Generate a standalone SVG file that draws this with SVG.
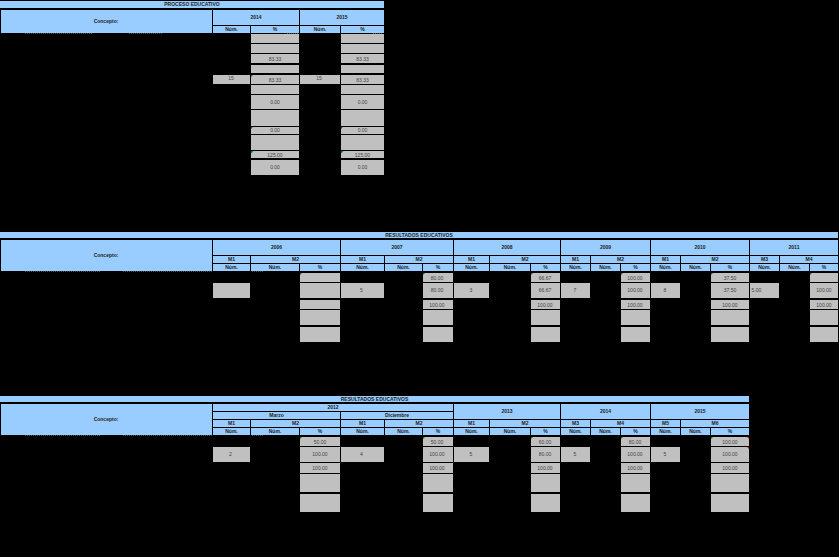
<svg xmlns="http://www.w3.org/2000/svg" width="839" height="557" viewBox="0 0 839 557">
<style>
.h{fill:#99ccff}
.g{fill:#c0c0c0}
.ht{font-family:"Liberation Sans",Arial,sans-serif;font-size:5px;font-weight:bold;fill:#222;text-anchor:middle}
.vt{font-family:"Liberation Sans",Arial,sans-serif;font-size:5px;fill:#444;text-anchor:middle}
.vl{font-family:"Liberation Sans",Arial,sans-serif;font-size:5px;fill:#444;text-anchor:start}
.dot{stroke:#8a8a8a;stroke-width:0.6;stroke-dasharray:1 1;fill:none}
.gc{fill:#008000}
.rc{fill:#ff0000}
</style>
<rect width="839" height="557" fill="#000"/>

<!-- TABLE 1: PROCESO EDUCATIVO -->
<g id="proceso">
<g id="proceso-header">
<rect class="h" x="0" y="1" width="384" height="7"/>
<text class="ht" x="192" y="6.3">PROCESO EDUCATIVO</text>
<rect class="h" x="1" y="10" width="211" height="23"/>
<text class="ht" x="106" y="23">Concepto:</text>
<rect class="h" x="213" y="10" width="86" height="15"/>
<text class="ht" x="256" y="19.2">2014</text>
<rect class="h" x="300" y="10" width="84" height="15"/>
<text class="ht" x="342" y="19.2">2015</text>
<rect class="h" x="213" y="26" width="37" height="7"/>
<text class="ht" x="231.5" y="31.3">Núm.</text>
<rect class="h" x="251" y="26" width="48" height="7"/>
<text class="ht" x="275" y="31.3">%</text>
<rect class="h" x="300" y="26" width="40" height="7"/>
<text class="ht" x="320" y="31.3">Núm.</text>
<rect class="h" x="341" y="26" width="43" height="7"/>
<text class="ht" x="362.5" y="31.3">%</text>
<path class="dot" d="M25 33.5H92M129 33.5H163M287 33.5H298M373 33.5H383"/>
</g>
<g id="proceso-2014">
<rect class="g" x="251" y="34" width="48" height="9"/>
<rect class="g" x="251" y="44" width="48" height="9"/>
<rect class="g" x="251" y="54" width="48" height="9"/>
<text class="vt" x="275" y="60.5">83.33</text>
<rect class="g" x="251" y="65" width="48" height="8"/>
<rect class="g" x="213" y="75" width="37" height="9"/>
<text class="vt" x="231" y="80">15</text>
<rect class="g" x="251" y="75" width="48" height="9"/>
<text class="vt" x="275" y="81.5">83.33</text>
<rect class="g" x="251" y="85" width="48" height="9"/>
<rect class="g" x="251" y="95" width="48" height="14"/>
<text class="vt" x="275" y="103.8">0.00</text>
<rect class="g" x="251" y="110" width="48" height="16"/>
<rect class="g" x="251" y="127" width="48" height="7"/>
<text class="vt" x="275" y="132.3">0.00</text>
<rect class="g" x="251" y="135" width="48" height="15"/>
<rect class="g" x="251" y="151" width="48" height="7"/>
<text class="vt" x="275" y="156.5">125.00</text>
<rect class="g" x="251" y="160" width="48" height="15"/>
<text class="vt" x="275" y="169.3">0.00</text>
<path class="gc" d="M251 75h2l-2 2zM251 127h2l-2 2zM251 151h2.5l-2.5 2.5z"/>
</g>
<g id="proceso-2015">
<rect class="g" x="341" y="34" width="43" height="9"/>
<rect class="g" x="341" y="44" width="43" height="9"/>
<rect class="g" x="341" y="54" width="43" height="9"/>
<text class="vt" x="362.5" y="60.5">83.33</text>
<rect class="g" x="341" y="65" width="43" height="8"/>
<rect class="g" x="300" y="75" width="40" height="9"/>
<text class="vt" x="319" y="80">15</text>
<rect class="g" x="341" y="75" width="43" height="9"/>
<text class="vt" x="362.5" y="81.5">83.33</text>
<rect class="g" x="341" y="85" width="43" height="9"/>
<rect class="g" x="341" y="95" width="43" height="14"/>
<text class="vt" x="362.5" y="103.8">0.00</text>
<rect class="g" x="341" y="110" width="43" height="16"/>
<rect class="g" x="341" y="127" width="43" height="7"/>
<text class="vt" x="362.5" y="132.3">0.00</text>
<rect class="g" x="341" y="135" width="43" height="15"/>
<rect class="g" x="341" y="151" width="43" height="7"/>
<text class="vt" x="362.5" y="156.5">125.00</text>
<rect class="g" x="341" y="160" width="43" height="15"/>
<text class="vt" x="362.5" y="169.3">0.00</text>
<path class="gc" d="M341 127h2l-2 2zM341 151h2.5l-2.5 2.5z"/>
</g>
</g>

<!-- TABLE 2: RESULTADOS EDUCATIVOS 2006-2011 -->
<g id="resultados-1">
<g id="res1-header">
<rect class="h" x="0" y="232" width="838" height="6"/>
<text class="ht" x="419" y="236.8">RESULTADOS EDUCATIVOS</text>
<rect class="h" x="1" y="240" width="211" height="31"/>
<text class="ht" x="106" y="257">Concepto:</text>
<rect class="h" x="213" y="240" width="127" height="15"/><text class="ht" x="276.5" y="249.2">2006</text>
<rect class="h" x="341" y="240" width="112" height="15"/><text class="ht" x="397" y="249.2">2007</text>
<rect class="h" x="454" y="240" width="106" height="15"/><text class="ht" x="507" y="249.2">2008</text>
<rect class="h" x="561" y="240" width="89" height="15"/><text class="ht" x="605.5" y="249.2">2009</text>
<rect class="h" x="651" y="240" width="98" height="15"/><text class="ht" x="700" y="249.2">2010</text>
<rect class="h" x="750" y="240" width="88" height="15"/><text class="ht" x="794" y="249.2">2011</text>
<rect class="h" x="213" y="256" width="37" height="7"/><text class="ht" x="231.5" y="261.3">M1</text>
<rect class="h" x="251" y="256" width="89" height="7"/><text class="ht" x="295.5" y="261.3">M2</text>
<rect class="h" x="341" y="256" width="43" height="7"/><text class="ht" x="362.5" y="261.3">M1</text>
<rect class="h" x="385" y="256" width="68" height="7"/><text class="ht" x="419" y="261.3">M2</text>
<rect class="h" x="454" y="256" width="35" height="7"/><text class="ht" x="471.5" y="261.3">M1</text>
<rect class="h" x="490" y="256" width="70" height="7"/><text class="ht" x="525" y="261.3">M2</text>
<rect class="h" x="561" y="256" width="29" height="7"/><text class="ht" x="575.5" y="261.3">M1</text>
<rect class="h" x="591" y="256" width="59" height="7"/><text class="ht" x="620.5" y="261.3">M2</text>
<rect class="h" x="651" y="256" width="29" height="7"/><text class="ht" x="665.5" y="261.3">M1</text>
<rect class="h" x="681" y="256" width="68" height="7"/><text class="ht" x="715" y="261.3">M2</text>
<rect class="h" x="750" y="256" width="29" height="7"/><text class="ht" x="764.5" y="261.3">M3</text>
<rect class="h" x="780" y="256" width="58" height="7"/><text class="ht" x="809" y="261.3">M4</text>
<rect class="h" x="213" y="264" width="37" height="7"/><text class="ht" x="231.5" y="269.3">Núm.</text>
<rect class="h" x="251" y="264" width="48" height="7"/><text class="ht" x="275" y="269.3">Núm.</text>
<rect class="h" x="300" y="264" width="40" height="7"/><text class="ht" x="320" y="269.3">%</text>
<rect class="h" x="341" y="264" width="43" height="7"/><text class="ht" x="362.5" y="269.3">Núm.</text>
<rect class="h" x="385" y="264" width="37" height="7"/><text class="ht" x="403.5" y="269.3">Núm.</text>
<rect class="h" x="423" y="264" width="30" height="7"/><text class="ht" x="438" y="269.3">%</text>
<rect class="h" x="454" y="264" width="35" height="7"/><text class="ht" x="471.5" y="269.3">Núm.</text>
<rect class="h" x="490" y="264" width="40" height="7"/><text class="ht" x="510" y="269.3">Núm.</text>
<rect class="h" x="531" y="264" width="29" height="7"/><text class="ht" x="545.5" y="269.3">%</text>
<rect class="h" x="561" y="264" width="29" height="7"/><text class="ht" x="575.5" y="269.3">Núm.</text>
<rect class="h" x="591" y="264" width="29" height="7"/><text class="ht" x="605.5" y="269.3">Núm.</text>
<rect class="h" x="621" y="264" width="29" height="7"/><text class="ht" x="635.5" y="269.3">%</text>
<rect class="h" x="651" y="264" width="29" height="7"/><text class="ht" x="665.5" y="269.3">Núm.</text>
<rect class="h" x="681" y="264" width="29" height="7"/><text class="ht" x="695.5" y="269.3">Núm.</text>
<rect class="h" x="711" y="264" width="38" height="7"/><text class="ht" x="730" y="269.3">%</text>
<rect class="h" x="750" y="264" width="29" height="7"/><text class="ht" x="764.5" y="269.3">Núm.</text>
<rect class="h" x="780" y="264" width="29" height="7"/><text class="ht" x="794.5" y="269.3">Núm.</text>
<rect class="h" x="810" y="264" width="28" height="7"/><text class="ht" x="824" y="269.3">%</text>
<path class="dot" d="M25 271.5H100M123 271.5H213M252 271.5H263"/>
</g>
<g id="res1-2006">
<rect class="g" x="300" y="273" width="40" height="9"/>
<rect class="g" x="213" y="283" width="37" height="15"/>
<rect class="g" x="300" y="283" width="40" height="15"/>
<rect class="g" x="300" y="300" width="40" height="9"/>
<rect class="g" x="300" y="310" width="40" height="15"/>
<rect class="g" x="300" y="327" width="40" height="15"/>
<path class="gc" d="M300 273h2l-2 2z"/>
</g>
<g id="res1-2007">
<rect class="g" x="423" y="273" width="30" height="9"/><text class="vt" x="437" y="279.5">80.00</text>
<rect class="g" x="341" y="283" width="43" height="15"/><text class="vt" x="361.5" y="292.3">5</text>
<rect class="g" x="423" y="283" width="30" height="15"/><text class="vt" x="437" y="292.3">80.00</text>
<rect class="g" x="423" y="300" width="30" height="9"/><text class="vt" x="437" y="306.5">100.00</text>
<rect class="g" x="423" y="310" width="30" height="15"/>
<rect class="g" x="423" y="327" width="30" height="15"/>
<path class="gc" d="M423 273h2l-2 2z"/>
</g>
<g id="res1-2008">
<rect class="g" x="531" y="273" width="29" height="9"/><text class="vt" x="545" y="279.5">66.67</text>
<rect class="g" x="454" y="283" width="35" height="15"/><text class="vt" x="471" y="292.3">3</text>
<rect class="g" x="531" y="283" width="29" height="15"/><text class="vt" x="545" y="292.3">66.67</text>
<rect class="g" x="531" y="300" width="29" height="9"/><text class="vt" x="545" y="306.5">100.00</text>
<rect class="g" x="531" y="310" width="29" height="15"/>
<rect class="g" x="531" y="327" width="29" height="15"/>
<path class="gc" d="M531 273h2l-2 2z"/>
</g>
<g id="res1-2009">
<rect class="g" x="621" y="273" width="29" height="9"/><text class="vt" x="635" y="279.5">100.00</text>
<rect class="g" x="561" y="283" width="29" height="15"/><text class="vt" x="575" y="292.3">7</text>
<rect class="g" x="621" y="283" width="29" height="15"/><text class="vt" x="635" y="292.3">100.00</text>
<rect class="g" x="621" y="300" width="29" height="9"/><text class="vt" x="635" y="306.5">100.00</text>
<rect class="g" x="621" y="310" width="29" height="15"/>
<rect class="g" x="621" y="327" width="29" height="15"/>
<path class="gc" d="M621 273h2l-2 2z"/>
</g>
<g id="res1-2010">
<rect class="g" x="711" y="273" width="38" height="9"/><text class="vt" x="730" y="279.5">37.50</text>
<rect class="g" x="651" y="283" width="29" height="15"/><text class="vt" x="665" y="292.3">8</text>
<rect class="g" x="711" y="283" width="38" height="15"/><text class="vt" x="730" y="292.3">37.50</text>
<rect class="g" x="711" y="300" width="38" height="9"/><text class="vt" x="730" y="306.5">100.00</text>
<rect class="g" x="711" y="310" width="38" height="15"/>
<rect class="g" x="711" y="327" width="38" height="15"/>
<path class="gc" d="M711 273h2l-2 2z"/>
</g>
<g id="res1-2011">
<rect class="g" x="810" y="273" width="28" height="9"/>
<rect class="g" x="750" y="283" width="29" height="15"/><text class="vl" x="751.5" y="292.3">5.00</text>
<rect class="g" x="810" y="283" width="28" height="15"/><text class="vt" x="824" y="292.3">100.00</text>
<rect class="g" x="810" y="300" width="28" height="9"/><text class="vt" x="824" y="306.5">100.00</text>
<rect class="g" x="810" y="310" width="28" height="15"/>
<rect class="g" x="810" y="327" width="28" height="15"/>
<path class="gc" d="M810 273h2l-2 2z"/>
</g>
</g>

<!-- TABLE 3: RESULTADOS EDUCATIVOS 2012-2015 -->
<g id="resultados-2">
<g id="res2-header">
<rect class="h" x="0" y="396" width="749" height="6"/>
<text class="ht" x="374.5" y="400.8">RESULTADOS EDUCATIVOS</text>
<rect class="h" x="1" y="404" width="211" height="31"/>
<text class="ht" x="106" y="421">Concepto:</text>
<rect class="h" x="213" y="404" width="240" height="7"/><text class="ht" x="333" y="409.3">2012</text>
<rect class="h" x="213" y="412" width="127" height="7"/><text class="ht" x="276.5" y="417.3">Marzo</text>
<rect class="h" x="341" y="412" width="112" height="7"/><text class="ht" x="397" y="417.3">Diciembre</text>
<rect class="h" x="454" y="404" width="106" height="15"/><text class="ht" x="507" y="413.2">2013</text>
<rect class="h" x="561" y="404" width="89" height="15"/><text class="ht" x="605.5" y="413.2">2014</text>
<rect class="h" x="651" y="404" width="98" height="15"/><text class="ht" x="700" y="413.2">2015</text>
<rect class="h" x="213" y="420" width="37" height="7"/><text class="ht" x="231.5" y="425.3">M1</text>
<rect class="h" x="251" y="420" width="89" height="7"/><text class="ht" x="295.5" y="425.3">M2</text>
<rect class="h" x="341" y="420" width="43" height="7"/><text class="ht" x="362.5" y="425.3">M1</text>
<rect class="h" x="385" y="420" width="68" height="7"/><text class="ht" x="419" y="425.3">M2</text>
<rect class="h" x="454" y="420" width="35" height="7"/><text class="ht" x="471.5" y="425.3">M1</text>
<rect class="h" x="490" y="420" width="70" height="7"/><text class="ht" x="525" y="425.3">M2</text>
<rect class="h" x="561" y="420" width="29" height="7"/><text class="ht" x="575.5" y="425.3">M3</text>
<rect class="h" x="591" y="420" width="59" height="7"/><text class="ht" x="620.5" y="425.3">M4</text>
<rect class="h" x="651" y="420" width="29" height="7"/><text class="ht" x="665.5" y="425.3">M5</text>
<rect class="h" x="681" y="420" width="68" height="7"/><text class="ht" x="715" y="425.3">M6</text>
<rect class="h" x="213" y="428" width="37" height="7"/><text class="ht" x="231.5" y="433.3">Núm.</text>
<rect class="h" x="251" y="428" width="48" height="7"/><text class="ht" x="275" y="433.3">Núm.</text>
<rect class="h" x="300" y="428" width="40" height="7"/><text class="ht" x="320" y="433.3">%</text>
<rect class="h" x="341" y="428" width="43" height="7"/><text class="ht" x="362.5" y="433.3">Núm.</text>
<rect class="h" x="385" y="428" width="37" height="7"/><text class="ht" x="403.5" y="433.3">Núm.</text>
<rect class="h" x="423" y="428" width="30" height="7"/><text class="ht" x="438" y="433.3">%</text>
<rect class="h" x="454" y="428" width="35" height="7"/><text class="ht" x="471.5" y="433.3">Núm.</text>
<rect class="h" x="490" y="428" width="40" height="7"/><text class="ht" x="510" y="433.3">Núm.</text>
<rect class="h" x="531" y="428" width="29" height="7"/><text class="ht" x="545.5" y="433.3">%</text>
<rect class="h" x="561" y="428" width="29" height="7"/><text class="ht" x="575.5" y="433.3">Núm.</text>
<rect class="h" x="591" y="428" width="29" height="7"/><text class="ht" x="605.5" y="433.3">Núm.</text>
<rect class="h" x="621" y="428" width="29" height="7"/><text class="ht" x="635.5" y="433.3">%</text>
<rect class="h" x="651" y="428" width="29" height="7"/><text class="ht" x="665.5" y="433.3">Núm.</text>
<rect class="h" x="681" y="428" width="29" height="7"/><text class="ht" x="695.5" y="433.3">Núm.</text>
<rect class="h" x="711" y="428" width="38" height="7"/><text class="ht" x="730" y="433.3">%</text>
<path class="dot" d="M25 435.5H100M123 435.5H213M252 435.5H263"/>
</g>
<g id="res2-marzo">
<rect class="g" x="300" y="437" width="40" height="9"/><text class="vt" x="320" y="443.5">50.00</text>
<rect class="g" x="213" y="447" width="37" height="15"/><text class="vt" x="230.5" y="456.3">2</text>
<rect class="g" x="300" y="447" width="40" height="15"/><text class="vt" x="320" y="456.3">100.00</text>
<rect class="g" x="300" y="463" width="40" height="10"/><text class="vt" x="320" y="469.8">100.00</text>
<rect class="g" x="300" y="474" width="40" height="18"/>
<rect class="g" x="300" y="494" width="40" height="18"/>
<path class="gc" d="M300 437h2l-2 2z"/>
</g>
<g id="res2-diciembre">
<rect class="g" x="423" y="437" width="30" height="9"/><text class="vt" x="437" y="443.5">50.00</text>
<rect class="g" x="341" y="447" width="43" height="15"/><text class="vt" x="361.5" y="456.3">4</text>
<rect class="g" x="423" y="447" width="30" height="15"/><text class="vt" x="437" y="456.3">100.00</text>
<rect class="g" x="423" y="463" width="30" height="10"/><text class="vt" x="437" y="469.8">100.00</text>
<rect class="g" x="423" y="474" width="30" height="18"/>
<rect class="g" x="423" y="494" width="30" height="18"/>
<path class="gc" d="M423 437h2l-2 2z"/>
</g>
<g id="res2-2013">
<rect class="g" x="531" y="437" width="29" height="9"/><text class="vt" x="545" y="443.5">60.00</text>
<rect class="g" x="454" y="447" width="35" height="15"/><text class="vt" x="471" y="456.3">5</text>
<rect class="g" x="531" y="447" width="29" height="15"/><text class="vt" x="545" y="456.3">80.00</text>
<rect class="g" x="531" y="463" width="29" height="10"/><text class="vt" x="545" y="469.8">100.00</text>
<rect class="g" x="531" y="474" width="29" height="18"/>
<rect class="g" x="531" y="494" width="29" height="18"/>
<path class="gc" d="M531 437h2l-2 2z"/>
</g>
<g id="res2-2014">
<rect class="g" x="621" y="437" width="29" height="9"/><text class="vt" x="635" y="443.5">80.00</text>
<rect class="g" x="561" y="447" width="29" height="15"/><text class="vt" x="575" y="456.3">5</text>
<rect class="g" x="621" y="447" width="29" height="15"/><text class="vt" x="635" y="456.3">100.00</text>
<rect class="g" x="621" y="463" width="29" height="10"/><text class="vt" x="635" y="469.8">100.00</text>
<rect class="g" x="621" y="474" width="29" height="18"/>
<rect class="g" x="621" y="494" width="29" height="18"/>
<path class="gc" d="M621 437h2l-2 2z"/>
</g>
<g id="res2-2015">
<rect class="g" x="711" y="437" width="38" height="9"/><text class="vt" x="730" y="443.5">100.00</text>
<rect class="g" x="651" y="447" width="29" height="15"/><text class="vt" x="665" y="456.3">5</text>
<rect class="g" x="711" y="447" width="38" height="15"/><text class="vt" x="730" y="456.3">100.00</text>
<rect class="g" x="711" y="463" width="38" height="10"/><text class="vt" x="730" y="469.8">100.00</text>
<rect class="g" x="711" y="474" width="38" height="18"/>
<rect class="g" x="711" y="494" width="38" height="18"/>
<path class="gc" d="M711 437h2l-2 2z"/>
<path class="rc" d="M749 437h-2l2 2zM749 447h-2l2 2z"/>
</g>
</g>
</svg>
